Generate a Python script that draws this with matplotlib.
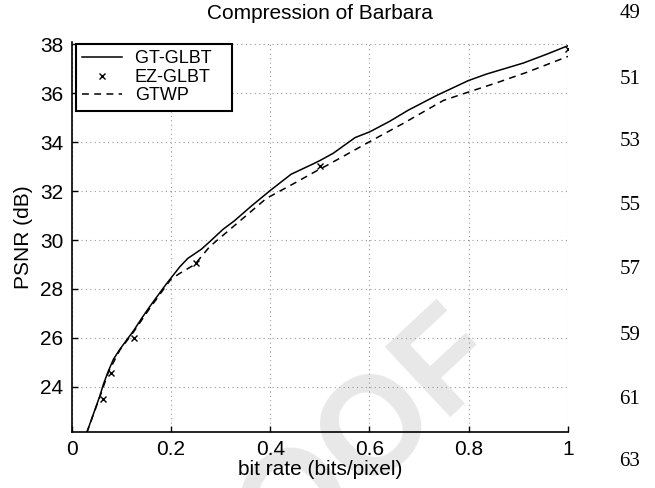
import matplotlib
matplotlib.use("Agg")
import matplotlib.pyplot as plt

plt.rcParams['font.family'] = ['Liberation Sans', 'DejaVu Sans']

# GT-GLBT curve (solid)
gt_rate = [0.03, 0.044, 0.057, 0.064, 0.074, 0.084, 0.097, 0.114, 0.125, 0.141,
           0.157, 0.185, 0.194, 0.218, 0.234, 0.261, 0.278, 0.305, 0.328, 0.362,
           0.399, 0.442, 0.486, 0.5, 0.527, 0.571, 0.601, 0.641, 0.678, 0.735,
           0.799, 0.836, 0.91, 0.957, 1.0]
gt_psnr = [22.1, 22.9, 23.64, 24.11, 24.65, 25.12, 25.53, 26.0, 26.3, 26.8,
           27.27, 28.05, 28.29, 28.91, 29.25, 29.62, 29.93, 30.44, 30.79, 31.39,
           32.01, 32.69, 33.11, 33.25, 33.55, 34.19, 34.43, 34.86, 35.31, 35.91,
           36.52, 36.79, 37.24, 37.6, 37.95]

# GTWP curve (dashed)
gtwp_rate = [0.03, 0.057, 0.074, 0.097, 0.125, 0.157, 0.2, 0.218, 0.248, 0.278,
             0.325, 0.392, 0.452, 0.496, 0.514, 0.6, 0.668, 0.749, 0.799, 0.856,
             0.917, 1.0]
gtwp_psnr = [22.1, 23.6, 24.6, 25.5, 26.25, 27.2, 28.4, 28.64, 29.0, 29.73,
             30.54, 31.7, 32.36, 32.86, 33.05, 34.02, 34.77, 35.71, 36.05, 36.43,
             36.86, 37.51]

# EZ-GLBT points
ez_rate = [0.0625, 0.08, 0.125, 0.25, 0.5, 1.0]
ez_psnr = [23.5, 24.57, 26.0, 29.05, 33.03, 37.83]

xticks = [0, 0.2, 0.4, 0.6, 0.8, 1]
xticklabels = ['0', '0.2', '0.4', '0.6', '0.8', '1']
yticks = [24, 26, 28, 30, 32, 34, 36, 38]
line_numbers = ['49', '51', '53', '55', '57', '59', '61', '63']
line_number_y = [14, 80, 142, 205, 270, 335, 400, 462]

fig = plt.figure(figsize=(6.55, 4.88), dpi=100)
ax = fig.add_axes([71.7 / 655, 1 - 431.7 / 488, 496.3 / 655, 389.2 / 488])
ax.patch.set_alpha(0)

# faint proof watermark behind the plot
fig.text(480 / 655, 1 - 332 / 488, 'PROOF', rotation=43, rotation_mode='anchor',
         ha='right', va='center', fontsize=100, fontweight='bold',
         color='#e8e8e8', zorder=-5)

ax.plot(gt_rate, gt_psnr, color='black', lw=1.1, label='GT-GLBT   ')
ax.plot(ez_rate, ez_psnr, linestyle='none', marker='x', color='black',
        markersize=4, mew=1.0, label='EZ-GLBT')
ax.plot(gtwp_rate, gtwp_psnr, color='black', lw=1.1, linestyle=(0, (4.5, 3.5)),
        label='GTWP')

ax.set_xlim(0, 1)
ax.set_ylim(22.16, 38.08)
ax.set_xticks(xticks)
ax.set_xticklabels(xticklabels)
ax.set_yticks(yticks)
ax.tick_params(direction='in', length=4, width=1, labelsize=15, pad=6)
ax.grid(True, linestyle=(0, (1, 3)), color='0.6', lw=0.8)
for s in ['top', 'right']:
    ax.spines[s].set_visible(False)
for s in ['left', 'bottom']:
    ax.spines[s].set_linewidth(1.2)

ax.set_title('Compression of Barbara', fontsize=15, pad=17)
ax.set_xlabel('bit rate (bits/pixel)', fontsize=15, labelpad=1)
ax.set_ylabel('PSNR (dB)', fontsize=15, labelpad=5)

leg = ax.legend(loc='upper left', bbox_to_anchor=(0.0087, 0.996), borderaxespad=0,
                fontsize=13, fancybox=False, framealpha=1, edgecolor='black',
                handlelength=2.2, handletextpad=0.7, labelspacing=0.08,
                borderpad=0.35, numpoints=1)
leg.get_frame().set_linewidth(1.5)

for lab, yy in zip(line_numbers, line_number_y):
    fig.text(630 / 655, 1 - yy / 488, lab, ha='center', va='center',
             fontsize=15, family='Liberation Serif')

fig.savefig('out.png', dpi=100)
